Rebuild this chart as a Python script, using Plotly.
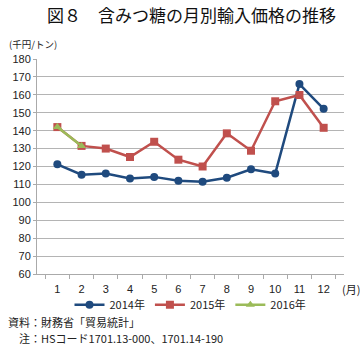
import plotly.graph_objects as go

months = ["1", "2", "3", "4", "5", "6", "7", "8", "9", "10", "11", "12"]
y2014 = [121.2, 115.4, 116.1, 113.3, 114.2, 112.0, 111.5, 113.7, 118.4, 116.1, 166.0, 152.2]
y2015 = [142.0, 131.5, 130.0, 125.3, 133.8, 123.8, 120.0, 138.5, 128.8, 156.4, 159.9, 141.6]
y2016 = [142.0, 131.5]
names = ["2014年", "2015年", "2016年"]
colors = ["#1F4A7E", "#C0504D", "#9BBB59"]
symbols = ["circle", "square", "triangle-up"]

FONT = "Noto Sans CJK JP, Liberation Sans, Arial, sans-serif"
NUMFONT = "Liberation Sans, Arial, sans-serif"

fig = go.Figure()
for name, ys, c, s in zip(names, [y2014, y2015, y2016], colors, symbols):
    fig.add_trace(go.Scatter(
        x=months[:len(ys)], y=ys, name=name, mode="lines+markers",
        line=dict(color=c, width=2.5),
        marker=dict(symbol=s, size=8, color=c),
    ))

W, H = 360, 346
l, r, t, b = 33, 16, 59, 72
pw, ph = W - l - r, H - t - b

def ann(text, px, py, size=11, xanchor="left", color="#222"):
    return dict(text=text, x=(px - l) / pw, y=1 - (py - t) / ph, xref="paper", yref="paper",
                showarrow=False, xanchor=xanchor, yanchor="middle",
                font=dict(size=size, family=FONT, color=color))

fig.update_layout(
    width=W, height=H,
    margin=dict(l=l, r=r, t=t, b=b),
    plot_bgcolor="white", paper_bgcolor="white",
    font=dict(family=FONT, size=11, color="#222"),
    showlegend=True,
    legend=dict(orientation="h", x=0.5, xanchor="center", y=-0.075, yanchor="top",
                font=dict(size=11, family=FONT), itemwidth=30, tracegroupgap=0,
                bgcolor="rgba(0,0,0,0)"),
    xaxis=dict(type="category", showgrid=False, showline=True, linecolor="#aaa",
               ticks="outside", tickson="boundaries", ticklen=4, tickcolor="#aaa",
               tickfont=dict(size=11, family=NUMFONT), ticklabelstandoff=5),
    yaxis=dict(range=[60, 180], dtick=10, showgrid=True, gridcolor="#b4b4b4",
               showline=True, linecolor="#aaa", ticks="outside", ticklen=3,
               tickcolor="#aaa", tickfont=dict(size=11, family=NUMFONT), zeroline=False),
    annotations=[
        ann("図８　含みつ糖の月別輸入価格の推移", 190, 14, size=17, xanchor="center", color="#111"),
        ann("(千円/トン)", 3, 44, size=9.5),
        ann("(月)", 340, 289, size=11),
        ann("資料：財務省「貿易統計」", 2, 322),
        ann("　注：HSコード1701.13-000、1701.14-190", 2, 338),
    ],
)

fig.write_html("out.html")
